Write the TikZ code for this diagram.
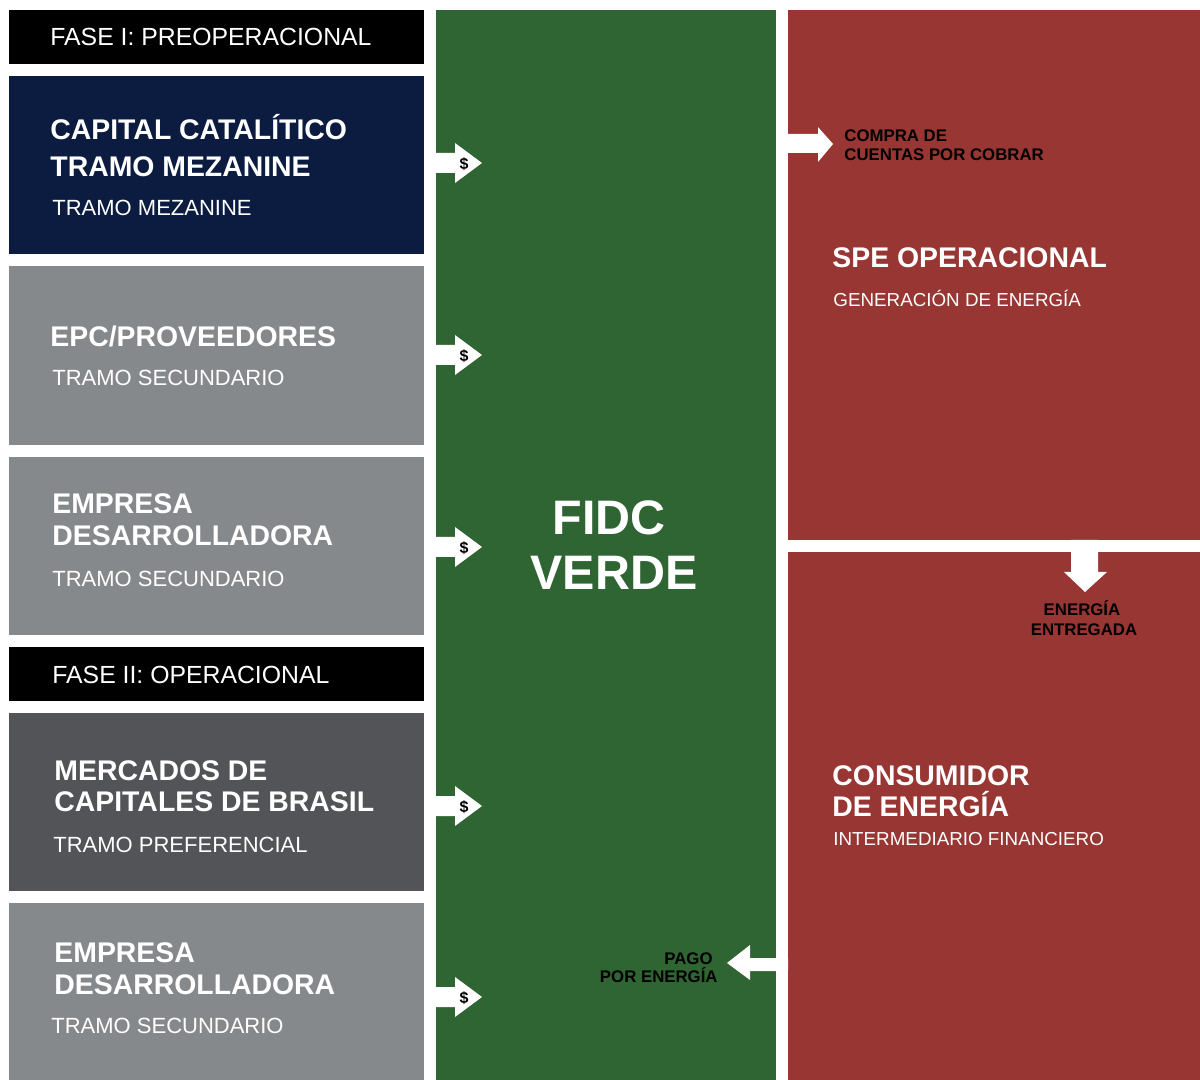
\documentclass[tikz,border=0pt]{standalone}
\usepackage{fontspec}
\setmainfont{Liberation Sans}
\usetikzlibrary{positioning}
\definecolor{navyblue}{HTML}{0B1C40}
\definecolor{slategray}{HTML}{86898B}
\definecolor{coalgray}{HTML}{535458}
\definecolor{fidcgreen}{HTML}{2F6433}
\definecolor{spered}{HTML}{973632}

\begin{document}
\begin{tikzpicture}[x=0.5pt,y=-0.5pt,
    txt/.style={anchor=west,inner sep=0pt,text depth=0pt},
    title/.style={txt,text=white,text height=10.1pt,font=\fontsize{14.2}{16}\selectfont\bfseries},
    sub/.style={txt,text=white,text height=7.9pt,font=\fontsize{11}{13}\selectfont},
    phase/.style={txt,text=white,text height=8.9pt,font=\fontsize{12.4}{14}\selectfont},
    rsub/.style={txt,text=white,text height=6.7pt,font=\fontsize{9.4}{11}\selectfont},
    tag/.style={txt,text=black,text height=6pt,font=\fontsize{8.4}{10}\selectfont\bfseries},
    big/.style={txt,anchor=center,text=white,text height=17.3pt,font=\fontsize{24.2}{28}\selectfont\bfseries}]
    \useasboundingbox[fill=white] (0,0) rectangle (1200,1080);
    % left column
    \fill[black] (9,10) rectangle (424,64);
    \fill[navyblue] (9,76) rectangle (424,254);
    \fill[slategray] (9,266) rectangle (424,445);
    \fill[slategray] (9,457) rectangle (424,635);
    \fill[black] (9,647) rectangle (424,701);
    \fill[coalgray] (9,713) rectangle (424,891);
    \fill[slategray] (9,903) rectangle (424,1080);
    % fund and right column
    \fill[fidcgreen] (436,10) rectangle (776,1080);
    \fill[spered] (788,10) rectangle (1200,540);
    \fill[spered] (788,552) rectangle (1200,1080);
    % money arrows into the fund
    \foreach \yy/\nm in {163/a,355/b,547/c,806/d,997/e} {
        \fill[white] (424,\yy-10) -- (455,\yy-10) -- (455,\yy-20) -- (482,\yy)
            -- (455,\yy+20) -- (455,\yy+10) -- (424,\yy+10) -- cycle;
        \node[inner sep=0pt,font=\fontsize{8}{8}\selectfont\bfseries] (usd\nm) at (464,\yy+1) {\$};
    }
    \fill[white] (776,134) -- (818,134) -- (818,127) -- (833,144) -- (818,162)
        -- (818,153) -- (776,153) -- cycle;
    \fill[white] (1071,540) -- (1071,572) -- (1064,572) -- (1085,592) -- (1107,572)
        -- (1098,572) -- (1098,540) -- cycle;
    \fill[white] (788,958) -- (750,958) -- (750,945) -- (727,963) -- (750,980)
        -- (750,971) -- (788,971) -- cycle;
    % texts
    \node[phase] (fase1) at (50,37) {FASE I: PREOPERACIONAL};
    \node[title] (cap1) at (50,129) {CAPITAL CATALÍTICO};
    \node[title] (cap2) at (50,166) {TRAMO MEZANINE};
    \node[sub] (capsub) at (52,208) {TRAMO MEZANINE};
    \node[title] (epc) at (50,336) {EPC/PROVEEDORES};
    \node[sub] (epcsub) at (52,378) {TRAMO SECUNDARIO};
    \node[title] (emp1) at (52,503) {EMPRESA};
    \node[title] (emp2) at (52,535) {DESARROLLADORA};
    \node[sub] (empsub) at (52,579) {TRAMO SECUNDARIO};
    \node[phase] (fase2) at (52,675) {FASE II: OPERACIONAL};
    \node[title] (merc1) at (54,770) {MERCADOS DE};
    \node[title] (merc2) at (54,801) {CAPITALES DE BRASIL};
    \node[sub] (mercsub) at (53,845) {TRAMO PREFERENCIAL};
    \node[title] (emq1) at (54,952) {EMPRESA};
    \node[title] (emq2) at (54,984) {DESARROLLADORA};
    \node[sub] (emqsub) at (51,1026) {TRAMO SECUNDARIO};
    \node[big] (fidc) at (609,517) {FIDC};
    \node[big] (verde) at (614,572) {VERDE};
    \node[title] (spe) at (832,257) {SPE OPERACIONAL};
    \node[rsub] (spesub) at (833,300) {GENERACIÓN DE ENERGÍA};
    \node[title] (cons1) at (832,775) {CONSUMIDOR};
    \node[title] (cons2) at (832,806) {DE ENERGÍA};
    \node[rsub] (conssub) at (833,839) {INTERMEDIARIO FINANCIERO};
    \node[tag] (compra1) at (844,136) {COMPRA DE};
    \node[tag] (compra2) at (844,155) {CUENTAS POR COBRAR};
    \node[tag,anchor=center] (ener1) at (1082,610) {ENERGÍA};
    \node[tag,anchor=center] (ener2) at (1084,629) {ENTREGADA};
    \node[tag,anchor=east] (pago1) at (713,958) {PAGO};
    \node[tag,anchor=east] (pago2) at (718,976) {POR ENERGÍA};
\end{tikzpicture}
\end{document}
